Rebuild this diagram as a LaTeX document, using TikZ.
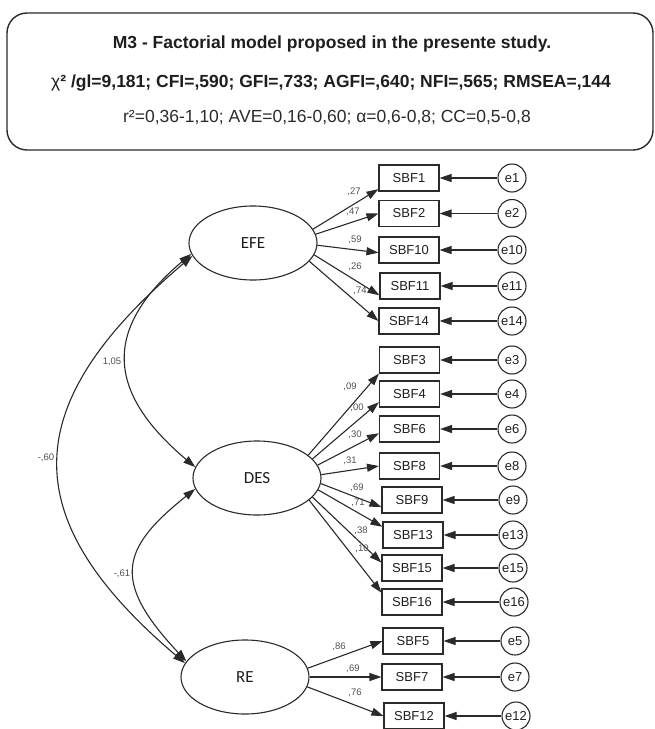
\documentclass[tikz,border=0pt]{standalone}
\usepackage{fontspec}
\setmainfont{Liberation Sans}
\newfontfamily\latfont{Carlito}
\usetikzlibrary{arrows.meta,shapes.geometric}
\definecolor{ink}{HTML}{2A2A2A}
\definecolor{lbl}{HTML}{505050}
\definecolor{txt}{HTML}{1E1E1E}
\begin{document}
\begin{tikzpicture}[x=1pt,y=-1pt,
  latent/.style={draw=ink, line width=1.1pt, ellipse, minimum width=128pt, minimum height=74pt, inner sep=0pt, font=\latfont\fontsize{17}{17}\selectfont, text=txt},
  obs/.style={draw=ink, line width=1.1pt, rectangle, minimum width=60pt, minimum height=26pt, inner sep=0pt, font=\fontsize{13}{13}\selectfont, text=txt},
  err/.style={draw=ink, line width=1.1pt, circle, minimum size=28pt, inner sep=0pt, font=\fontsize{13}{13}\selectfont, text=txt},
  load/.style={draw=ink, line width=1.1pt, -{Triangle[length=12pt,width=8pt]}},
  cov/.style={draw=ink, line width=1.1pt, {Triangle[length=12pt,width=8pt]}-{Triangle[length=12pt,width=8pt]}},
  wt/.style={font=\fontsize{9.5}{9.5}\selectfont, text=lbl, inner sep=0pt},
  hdrtxt/.style={font=\fontsize{17.5}{17.5}\selectfont, inner sep=0pt},
]
\useasboundingbox (0,0) rectangle (655,729);

% header
\node[draw=ink, line width=1.4pt, rounded corners=20pt, minimum width=646pt, minimum height=137pt, inner sep=0pt] (hdr) at (330,81.5) {};
\node[hdrtxt, font=\bfseries\fontsize{17.5}{17.5}\selectfont, text=txt] (t1) at (332,44) {M3 - Factorial model proposed in the presente study.};
\node[hdrtxt, font=\bfseries\fontsize{17.5}{17.5}\selectfont, text=txt] (t2) at (331,83) {{\mdseries χ}² /gl=9,181; CFI=,590; GFI=,733; AGFI=,640; NFI=,565; RMSEA=,144};
\node[hdrtxt, text=ink] (t3) at (327,118) {r²=0,36-1,10; AVE=0,16-0,60; α=0,6-0,8; CC=0,5-0,8};

% latent variables
\node[latent] (EFE) at (253,243) {EFE};
\node[latent] (DES) at (257,478) {DES};
\node[latent] (RE) at (245,677) {RE};

% observed EFE
\node[obs] (SBF1) at (409,178) {SBF1};
\node[obs] (SBF2) at (409,213.5) {SBF2};
\node[obs] (SBF10) at (409,250) {SBF10};
\node[obs] (SBF11) at (410,286) {SBF11};
\node[obs] (SBF14) at (409,321) {SBF14};
% observed DES
\node[obs] (SBF3) at (409.5,360) {SBF3};
\node[obs] (SBF4) at (409.5,394) {SBF4};
\node[obs] (SBF6) at (409.5,429) {SBF6};
\node[obs] (SBF8) at (409.5,466) {SBF8};
\node[obs] (SBF9) at (412,500) {SBF9};
\node[obs] (SBF13) at (413,535) {SBF13};
\node[obs] (SBF15) at (412,568) {SBF15};
\node[obs] (SBF16) at (412,602) {SBF16};
% observed RE
\node[obs] (SBF5) at (413,641) {SBF5};
\node[obs] (SBF7) at (412,677) {SBF7};
\node[obs] (SBF12) at (414,716) {SBF12};

% errors
\node[err] (e1) at (512,178) {e1};
\node[err] (e2) at (512,213.5) {e2};
\node[err] (e10) at (512,250) {e10};
\node[err] (e11) at (512,286) {e11};
\node[err] (e14) at (512,321) {e14};
\node[err] (e3) at (512,360) {e3};
\node[err] (e4) at (512,394) {e4};
\node[err] (e6) at (512,429) {e6};
\node[err] (e8) at (512,466) {e8};
\node[err] (e9) at (513,500) {e9};
\node[err] (e13) at (513,535) {e13};
\node[err] (e15) at (513,568) {e15};
\node[err] (e16) at (514,602) {e16};
\node[err] (e5) at (515,641) {e5};
\node[err] (e7) at (515,677) {e7};
\node[err] (e12) at (516,716) {e12};

% error arrows
\foreach \e/\b in {e1/SBF1,e2/SBF2,e10/SBF10,e11/SBF11,e14/SBF14,e3/SBF3,e4/SBF4,e6/SBF6,e8/SBF8,e9/SBF9,e13/SBF13,e15/SBF15,e16/SBF16,e5/SBF5,e7/SBF7,e12/SBF12}
  \draw[load] (\e) -- (\b);

% loadings EFE
\draw[load] (EFE.13) -- (SBF1.200);
\draw[load] (EFE.8) -- (SBF2.west);
\draw[load] (EFE.358) -- (SBF10.185);
\draw[load] (EFE.349) -- (SBF11.197);
\draw[load] (EFE.342) -- (SBF14.west);
% loadings DES
\draw[load] (DES.24) -- (SBF3.south west);
\draw[load] (DES.19) -- (SBF4.195);
\draw[load] (DES.12) -- (SBF6.188);
\draw[load] (DES.3) -- (SBF8.west);
\draw[load] (DES.355) -- (SBF9.193);
\draw[load] (DES.349) -- (SBF13.165);
\draw[load] (DES.341) -- (SBF15.170);
\draw[load] (DES.337) -- (SBF16.163);
% loadings RE
\draw[load] (RE.8) -- (SBF5.west);
\draw[load] (RE.east) -- (SBF7.west);
\draw[load] (RE.351) -- (SBF12.west);

% loading weights
\node[wt] (w1) at (354,192) {,27};
\node[wt] (w2) at (353,212) {,47};
\node[wt] (w10) at (355,240) {,59};
\node[wt] (w11) at (355,267) {,26};
\node[wt] (w14) at (360,291) {,74};
\node[wt] (w3) at (350,387) {,09};
\node[wt] (w4) at (357,408) {,00};
\node[wt] (w6) at (355,435) {,30};
\node[wt] (w8) at (350,461) {,31};
\node[wt] (w9) at (357,488) {,69};
\node[wt] (w13) at (358,503) {,71};
\node[wt] (w15) at (361,531) {,38};
\node[wt] (w16) at (362,549) {,10};
\node[wt] (w5) at (339,647) {,86};
\node[wt] (w7) at (353,669) {,69};
\node[wt] (w12) at (355,693) {,76};

% covariances
\draw[cov] (EFE.190) .. controls +(-89,75) and +(-89,-75) .. (DES.170);
\draw[cov] (EFE.192) .. controls +(-173,147) and +(-173,-147) .. (RE.167);
\draw[cov] (DES.190) .. controls +(-75,60) and +(-75,-80) .. (RE.165);
\node[wt] (c1) at (112,362) {1,05};
\node[wt] (c2) at (46,458) {-,60};
\node[wt] (c3) at (122,574) {-,61};
\end{tikzpicture}
\end{document}
